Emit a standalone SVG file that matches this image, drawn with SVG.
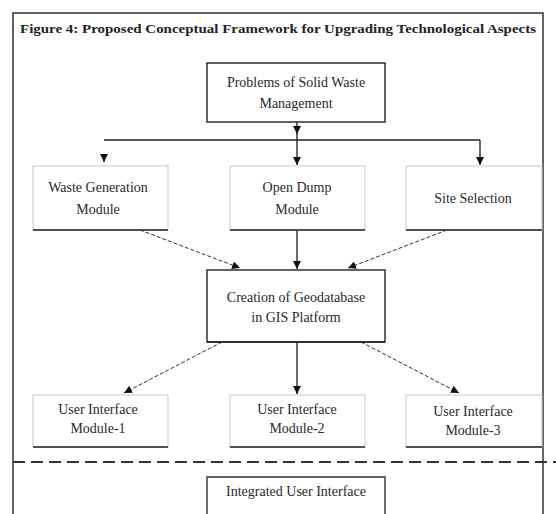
<svg xmlns="http://www.w3.org/2000/svg" width="556" height="514" viewBox="0 0 556 514">
<style>
.t{font-family:"Liberation Serif","DejaVu Serif",serif;font-size:14px;fill:#2a2a2a;text-anchor:middle}
.title{font-family:"Liberation Serif","DejaVu Serif",serif;font-size:13.5px;font-weight:bold;fill:#222;text-anchor:middle}
.box{fill:#fff;stroke:#222;stroke-width:1.4}
.soft{fill:#fff;stroke:#c8c8c8;stroke-width:1}
.base{stroke:#222;stroke-width:1.6;fill:none}
.solid{stroke:#1a1a1a;stroke-width:1.3;fill:none}
.dash{stroke:#333;stroke-width:1;fill:none;stroke-dasharray:4 2}
</style>
<defs>
<marker id="ah" viewBox="0 0 10 10" refX="10" refY="5" markerWidth="8" markerHeight="8" markerUnits="userSpaceOnUse" orient="auto">
<path d="M0,0 L10,5 L0,10 z" fill="#111"/>
</marker>
</defs>
<rect width="556" height="514" fill="#fff"/>
<path d="M13,514 V13 H543 V514" fill="none" stroke="#333" stroke-width="1.5"/>
<text class="title" x="278" y="33" textLength="516" lengthAdjust="spacingAndGlyphs">Figure 4: Proposed Conceptual Framework for Upgrading Technological Aspects</text>

<g id="connectors">
<line class="solid" x1="297" y1="122" x2="297" y2="134" marker-end="url(#ah)"/>
<line class="solid" x1="297" y1="133" x2="297" y2="140"/>
<path class="base" d="M104,140 H480" stroke-width="1.4"/>
<line class="solid" x1="104" y1="155" x2="104" y2="162" stroke="#fff" marker-end="url(#ah)"/>
<line class="solid" x1="297" y1="140" x2="297" y2="165" marker-end="url(#ah)"/>
<line class="solid" x1="480" y1="140" x2="480" y2="165" marker-end="url(#ah)"/>
<line class="dash" x1="140" y1="230" x2="240" y2="268" marker-end="url(#ah)"/>
<line class="solid" x1="297" y1="230" x2="297" y2="269" marker-end="url(#ah)"/>
<line class="dash" x1="447" y1="230" x2="348" y2="268" marker-end="url(#ah)"/>
<line class="dash" x1="222" y1="342" x2="124" y2="393" marker-end="url(#ah)"/>
<line class="solid" x1="297" y1="342" x2="297" y2="394" marker-end="url(#ah)"/>
<line class="dash" x1="361" y1="342" x2="459" y2="393" marker-end="url(#ah)"/>
<line x1="13" y1="462" x2="556" y2="462" stroke="#333" stroke-width="2" stroke-dasharray="12 6"/>
</g>

<g id="problems">
<rect class="box" x="207" y="63" width="178" height="59"/>
<text class="t" x="296" y="87">Problems of Solid Waste</text>
<text class="t" x="296" y="108">Management</text>
</g>

<g id="waste-generation">
<rect class="soft" x="33" y="166" width="135" height="64"/>
<line class="base" x1="33" y1="230" x2="168" y2="230"/>
<text class="t" x="98" y="192">Waste Generation</text>
<text class="t" x="98" y="214">Module</text>
</g>

<g id="open-dump">
<rect class="soft" x="230" y="166" width="135" height="64"/>
<line class="base" x1="230" y1="230" x2="365" y2="230"/>
<text class="t" x="297" y="192">Open Dump</text>
<text class="t" x="297" y="214">Module</text>
</g>

<g id="site-selection">
<rect class="soft" x="406" y="166" width="136" height="64"/>
<line class="base" x1="406" y1="230" x2="542" y2="230"/>
<text class="t" x="473" y="203">Site Selection</text>
</g>

<g id="geodatabase">
<rect class="box" x="207" y="270" width="178" height="72" stroke="#555"/>
<line class="base" x1="207" y1="342" x2="385" y2="342"/>
<text class="t" x="296" y="302">Creation of Geodatabase</text>
<text class="t" x="296" y="322">in GIS Platform</text>
</g>

<g id="ui-1">
<rect class="soft" x="33" y="395" width="135" height="52"/>
<line class="base" x1="33" y1="447" x2="168" y2="447"/>
<text class="t" x="98" y="414">User Interface</text>
<text class="t" x="98" y="433">Module-1</text>
</g>

<g id="ui-2">
<rect class="soft" x="230" y="395" width="135" height="52"/>
<line class="base" x1="230" y1="447" x2="365" y2="447"/>
<text class="t" x="297" y="414">User Interface</text>
<text class="t" x="297" y="433">Module-2</text>
</g>

<g id="ui-3">
<rect class="soft" x="406" y="395" width="136" height="52"/>
<line class="base" x1="406" y1="447" x2="542" y2="447"/>
<text class="t" x="473" y="416">User Interface</text>
<text class="t" x="473" y="435">Module-3</text>
</g>

<g id="integrated">
<path d="M207,514 V477 H385 V514" fill="#fff" stroke="#333" stroke-width="1.4"/>
<text class="t" x="296" y="496">Integrated User Interface</text>
</g>
</svg>
